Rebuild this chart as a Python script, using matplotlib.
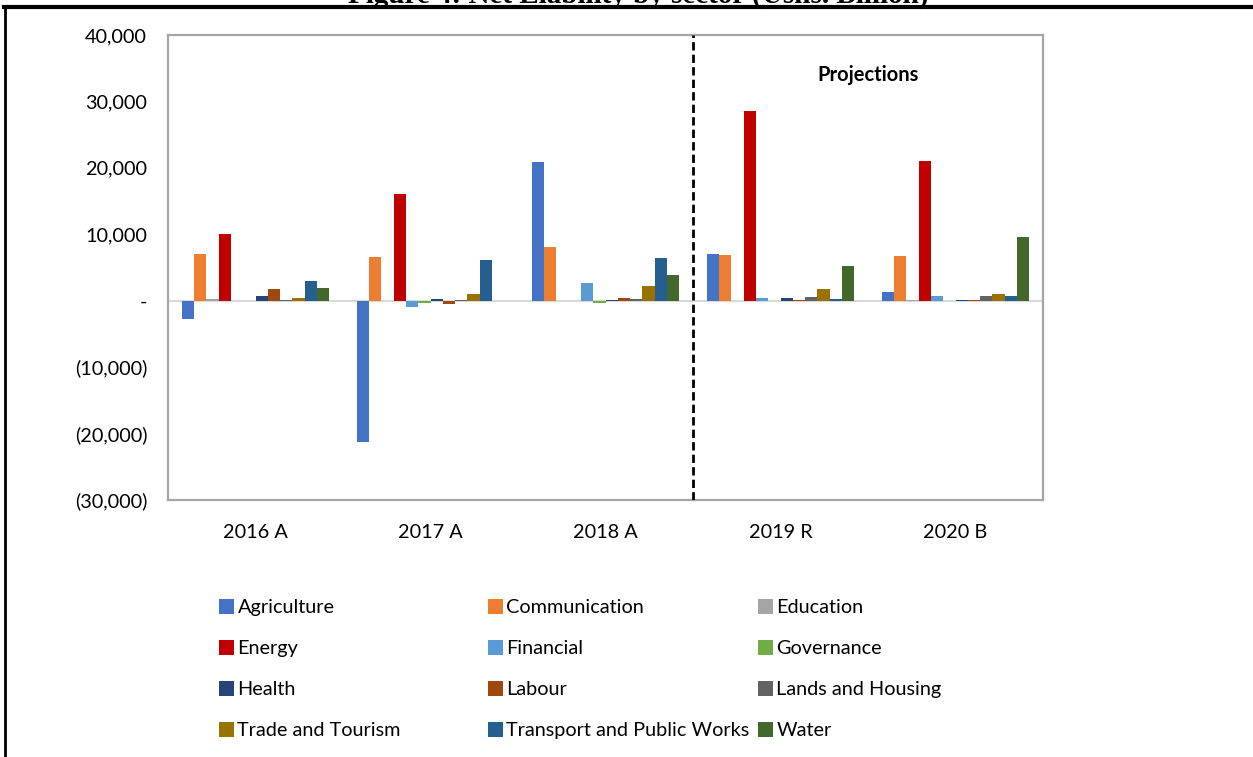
import numpy as np
import matplotlib.pyplot as plt
from matplotlib.lines import Line2D
from matplotlib.ticker import FixedLocator

# data (Ushs billion)
years = ["2016 A", "2017 A", "2018 A", "2019 R", "2020 B"]
sectors = ["Agriculture", "Communication", "Education", "Energy", "Financial",
           "Governance", "Health", "Labour", "Lands and Housing",
           "Trade and Tourism", "Transport and Public Works", "Water"]

agriculture = [-2700, -21300, 20900, 7100, 1300]
communication = [7000, 6600, 8100, 6900, 6800]
education = [300, 0, 0, 0, 150]
energy = [10000, 16100, 0, 28500, 21000]
financial = [-100, -1000, 2600, 450, 750]
governance = [0, -400, -400, 0, 0]
health = [750, 250, 50, 400, 150]
labour = [1800, -450, 350, 150, 150]
lands = [50, 150, 200, 500, 750]
trade = [450, 1050, 2250, 1700, 1050]
transport = [3000, 6100, 6500, 300, 750]
water = [1900, 0, 3900, 5300, 9600]

series = [agriculture, communication, education, energy, financial, governance,
          health, labour, lands, trade, transport, water]
colors = ["#4472C4", "#ED7D31", "#A5A5A5", "#C00000", "#5B9BD5", "#70AD47",
          "#264478", "#9E480E", "#636363", "#997300", "#255E91", "#43682B"]

yticks = [40000, 30000, 20000, 10000, 0, -10000, -20000, -30000]
ytick_labels = ["40,000", "30,000", "20,000", "10,000", "-",
                "(10,000)", "(20,000)", "(30,000)"]

plt.rcParams['font.family'] = ['Lato', 'DejaVu Sans']

fig = plt.figure(figsize=(12.53, 7.57), dpi=100)
ax = fig.add_axes([168/1253, 1-500/757, 875/1253, 465/757])

x = np.arange(len(years))
w = 0.0703
bars = []
for i, (vals, c) in enumerate(zip(series, colors)):
    b = ax.bar(x + (i - 5.5) * w, vals, w, color=c, label=sectors[i], zorder=2)
    bars.append(b)

ax.set_xlim(-0.5, 4.5)
ax.set_ylim(-30000, 40000)
ax.yaxis.set_major_locator(FixedLocator(yticks))
ax.set_yticklabels(ytick_labels, fontsize=14.3)
ax.set_xticks(x)
ax.set_xticklabels(years, fontsize=14.3)
ax.tick_params(axis='y', length=0, pad=15)
ax.tick_params(axis='x', length=0, pad=17)

for s in ax.spines.values():
    s.set_color("#A6A6A6")
    s.set_linewidth(1.6)

ax.axhline(0, color="#D9D9D9", lw=1.5, zorder=1)
ax.axvline(2.5, color="black", lw=2, ls=(0, (3, 1.5)), zorder=3)
ax.text(3.5, 34000, "Projections", ha='center', va='center',
        fontsize=14.5, fontweight='bold')

# legend: three separate columns like the Excel layout
cols = [[0, 3, 6, 9], [1, 4, 7, 10], [2, 5, 8, 11]]
col_x = [219, 488, 758]
for cx, idx in zip(col_x, cols):
    leg = fig.legend([bars[k] for k in idx], [sectors[k] for k in idx],
                     loc='upper left', bbox_to_anchor=(cx/1253, 1-599/757),
                     frameon=False, fontsize=14.3, handlelength=0.75,
                     handleheight=0.75, handletextpad=0.18, labelspacing=1.2,
                     borderpad=0, borderaxespad=0)

# title cut off at top of page and the box border
fig.text(0.5 + 12/1253, 1 - 3/757, "Figure 4: Net Liability by sector (Ushs. Billion)",
         ha='center', va='baseline', fontsize=21, fontweight='bold',
         family='Liberation Serif')
fig.add_artist(Line2D([4/1253, 1], [1-7/757, 1-7/757], color='black', lw=3,
                      transform=fig.transFigure))
fig.add_artist(Line2D([5/1253, 5/1253], [0, 1-7/757], color='black', lw=2,
                      transform=fig.transFigure))

fig.savefig("out.png", dpi=100)
